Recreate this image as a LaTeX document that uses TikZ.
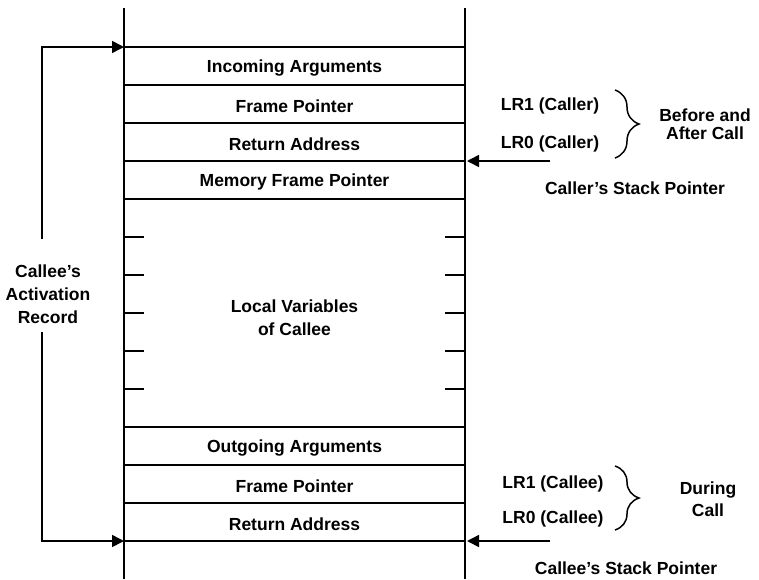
\documentclass[tikz,border=0pt]{standalone}
\usepackage{fontspec}
\setmainfont{Liberation Sans}
\usetikzlibrary{arrows.meta, decorations.pathreplacing}

\tikzset{
    wall/.style={line width=1.8pt},
    row/.style={line width=1.6pt},
    ptr/.style={line width=1.6pt, -{Triangle[length=12pt, width=12pt]}},
    curly/.style={line width=1.5pt, decorate, decoration={brace, amplitude=24pt}},
    lbl/.style={inner sep=0pt, align=center},
}

\begin{document}
\begin{tikzpicture}[x=1pt, y=-1pt, font=\fontsize{17.5}{23}\selectfont\bfseries]
    \useasboundingbox (0,0) rectangle (759,579);
    % stack walls
    \draw[wall] (124,8) -- (124,579);
    \draw[wall] (465,8) -- (465,579);
    \foreach \y in {47,85,123,161,199,427,465,503,541}
        \draw[row] (124,\y) -- (465,\y);
    \foreach \y in {237,275,313,351,389} {
        \draw[row] (124,\y) -- +(20,0);
        \draw[row] (465,\y) -- +(-20,0);
    }
    % frame slots
    \node[lbl] (inarg) at (294.5,68) {Incoming Arguments};
    \node[lbl] (fpcaller) at (294.5,106) {Frame Pointer};
    \node[lbl] (racaller) at (294.5,144) {Return Address};
    \node[lbl] (mfp) at (294.5,182) {Memory Frame Pointer};
    \node[lbl] (locals) at (294.5,318) {Local Variables\\of Callee};
    \node[lbl] (outarg) at (294.5,448) {Outgoing Arguments};
    \node[lbl] (fpcallee) at (294.5,486) {Frame Pointer};
    \node[lbl] (racallee) at (294.5,524) {Return Address};
    % activation record
    \node[lbl] (actrec) at (48,294) {Callee's\\Activation\\Record};
    \coordinate (rectop) at (124,47);
    \coordinate (recbot) at (124,541);
    \coordinate (brtop) at (42,239);
    \coordinate (brbot) at (42,332);
    \draw[ptr] (brtop) |- (rectop);
    \draw[ptr] (brbot) |- (recbot);
    % caller side
    \node[lbl] (lr1caller) at (550,106) {LR1 (Caller)};
    \node[lbl] (lr0caller) at (550,144) {LR0 (Caller)};
    \draw[curly] (615,90) -- (615,158);
    \node[lbl, font=\fontsize{17.5}{18}\selectfont\bfseries] (before) at (705,124) {Before and\\After Call};
    \coordinate (callersp) at (550,161);
    \coordinate (wallcaller) at (467,161);
    \draw[ptr] (callersp) -- (wallcaller);
    \node[lbl] (callerlbl) at (635,188) {Caller's Stack Pointer};
    % callee side
    \node[lbl] (lr1callee) at (553,484) {LR1 (Callee)};
    \node[lbl] (lr0callee) at (553,519) {LR0 (Callee)};
    \draw[curly] (615,466) -- (615,530);
    \node[lbl, font=\fontsize{17.5}{22}\selectfont\bfseries] (during) at (708,499) {During\\Call};
    \coordinate (calleesp) at (550,541);
    \coordinate (wallcallee) at (467,541);
    \draw[ptr] (calleesp) -- (wallcallee);
    \node[lbl] (calleelbl) at (626,568) {Callee's Stack Pointer};
\end{tikzpicture}
\end{document}
